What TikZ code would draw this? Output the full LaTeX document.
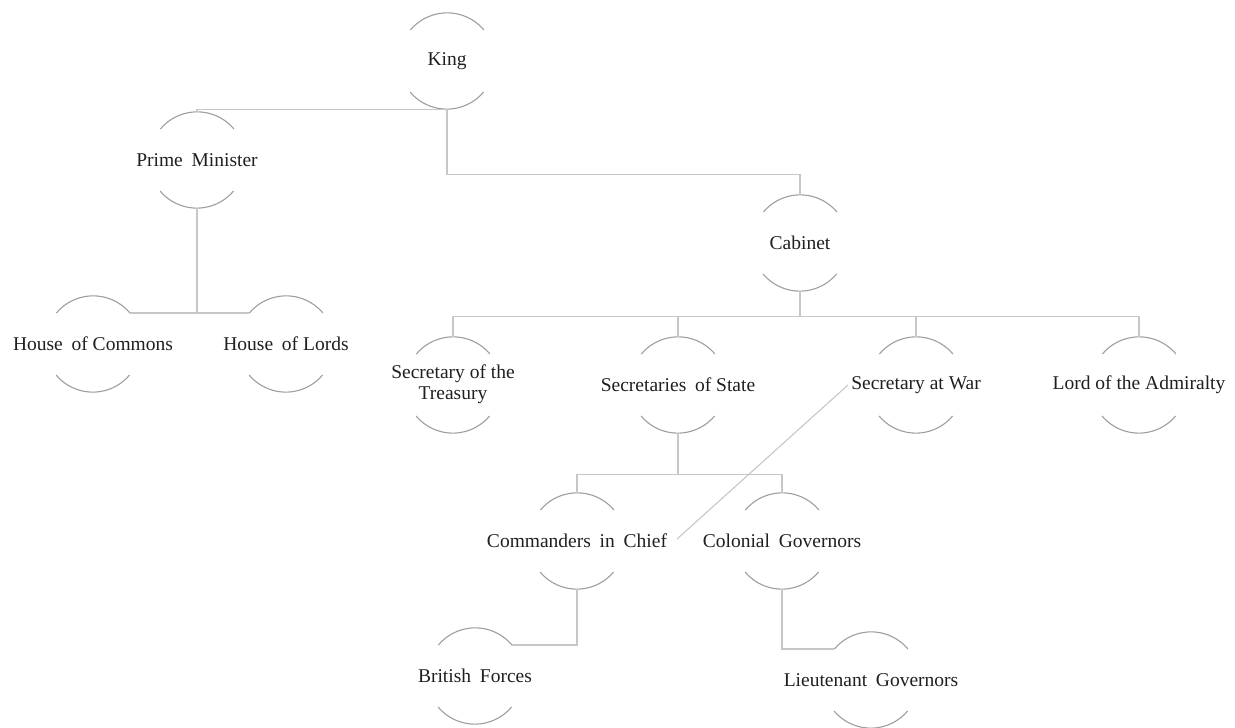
\documentclass[tikz,border=0pt]{standalone}
\usepackage{fontspec}
\setmainfont{Liberation Serif}
\usetikzlibrary{calc}
\newcommand{\wsp}{\hspace{0.45em}}
\newcommand{\zt}[1]{\makebox[0pt][c]{#1}}
\begin{document}
\begin{tikzpicture}[x=1pt,y=1pt,
  orgnode/.style={circle,minimum size=96pt,inner sep=0pt,
    font=\fontsize{19.5}{21}\selectfont,text=black!88},
  arcline/.style={draw=black!38,line width=1.1pt},
  conn/.style={draw=black!22,line width=1.1pt}]
\useasboundingbox (0,0) rectangle (1235,728);
% nodes (y = 728 - pixel row)
\node[orgnode] (king) at (447,667) {\zt{King}};
\node[orgnode] (pm)   at (197,568) {\zt{Prime\wsp Minister}};
\node[orgnode] (hoc)  at (93,384)  {\zt{House\wsp of Commons}};
\node[orgnode] (hol)  at (286,384) {\zt{House\wsp of Lords}};
\node[orgnode] (cab)  at (800,485) {\zt{Cabinet}};
\node[orgnode] (tre)  at (453,343) {\zt{\begin{tabular}{@{}c@{}}Secretary of the\\Treasury\end{tabular}}};
\node[orgnode] (sos)  at (678,343) {\zt{Secretaries\wsp of State}};
\node[orgnode] (saw)  at (916,343) {\zt{Secretary at War}};
\node[orgnode] (lota) at (1139,343) {\zt{Lord of the Admiralty}};
\node[orgnode] (cic)  at (577,187) {\zt{Commanders\wsp in\wsp Chief}};
\node[orgnode] (cg)   at (782,187) {\zt{Colonial\wsp Governors}};
\node[orgnode] (bf)   at (475,52)  {\zt{British\wsp Forces}};
\node[orgnode] (lg)   at (871,48)  {\zt{Lieutenant\wsp Governors}};
% arcs
\foreach \n in {king,pm,hoc,hol,cab,tre,sos,saw,lota,cic,cg,bf,lg}{
  \draw[arcline] (\n.40) arc[start angle=40,end angle=140,radius=48pt];
  \draw[arcline] (\n.220) arc[start angle=220,end angle=320,radius=48pt];
}
% connectors
\draw[conn] (king.south) -| (pm.north);
\draw[conn] (king.south) -- ++(0,-65) -| (cab.north);
\draw[conn] (pm.south) |- (hoc.40);
\draw[conn] (pm.south) |- (hol.140);
\draw[conn] (cab.south) -- ++(0,-25) -| (tre.north);
\draw[conn] (cab.south) -- ++(0,-25) -| (sos.north);
\draw[conn] (cab.south) -- ++(0,-25) -| (saw.north);
\draw[conn] (cab.south) -- ++(0,-25) -| (lota.north);
\draw[conn] (sos.south) -- ++(0,-41) -| (cic.north);
\draw[conn] (sos.south) -- ++(0,-41) -| (cg.north);
\draw[conn] (cic.south) |- (bf.40);
\draw[conn] (cg.south) |- (lg.140);
\draw[conn] ($(saw.center)+(-68,0)$) -- ($(cic.center)+(100,2)$);
\end{tikzpicture}
\end{document}
